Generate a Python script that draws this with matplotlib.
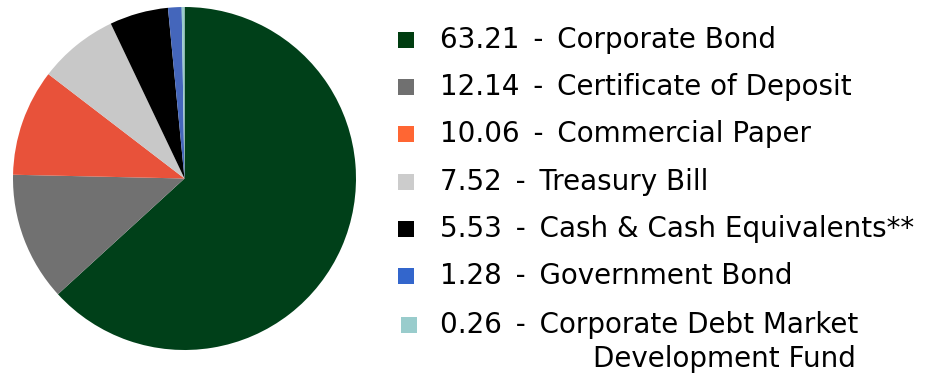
import matplotlib
matplotlib.use("Agg")
import matplotlib.pyplot as plt
from matplotlib.patches import Rectangle

# holdings by instrument type (%)
values = [63.21, 12.14, 10.06, 7.52, 5.53, 1.28, 0.26]
labels = ["Corporate Bond", "Certificate of Deposit", "Commercial Paper",
          "Treasury Bill", "Cash & Cash Equivalents**", "Government Bond",
          "Corporate Debt Market\nDevelopment Fund"]
pie_colors = ["#004019", "#717171", "#e8523a", "#c8c8c8", "#000000", "#4466bb", "#99cccc"]
key_colors = ["#003d10", "#707070", "#ff6633", "#cccccc", "#000000", "#3366cc", "#99cccc"]

W, H = 929, 385
fig = plt.figure(figsize=(W / 100, H / 100), dpi=100)

# pie: centre ~ (184, 178) px, radius ~171 px
r = 171.5
cx, cy = 184.5, 178.5
ax = fig.add_axes([(cx - r) / W, (H - cy - r) / H, 2 * r / W, 2 * r / H])
ax.pie(values, colors=pie_colors, startangle=90, counterclock=False,
       radius=1, wedgeprops=dict(linewidth=0))
ax.set_xlim(-1, 1)
ax.set_ylim(-1, 1)
ax.set_aspect("equal")
ax.axis("off")

# key on the right
row_y = [40, 87, 134, 182, 229, 276, 325]
sq = 16
fs = 20
for i in range(len(values)):
    y = row_y[i]
    x0 = 398 if i < 6 else 401
    fig.patches.append(Rectangle((x0 / W, (H - y - sq / 2) / H), sq / W, sq / H,
                                 transform=fig.transFigure, color=key_colors[i],
                                 linewidth=0))
    lines = labels[i].split("\n")
    fig.text(440 / W, (H - y) / H, "%.2f\u2002-\u2002%s" % (values[i], lines[0]),
             fontsize=fs, family="DejaVu Sans", va="center", ha="left")
    for k, extra in enumerate(lines[1:]):
        fig.text(593 / W, (H - y - 34 * (k + 1)) / H, extra,
                 fontsize=fs, family="DejaVu Sans", va="center", ha="left")

fig.savefig("out.png", dpi=100)
